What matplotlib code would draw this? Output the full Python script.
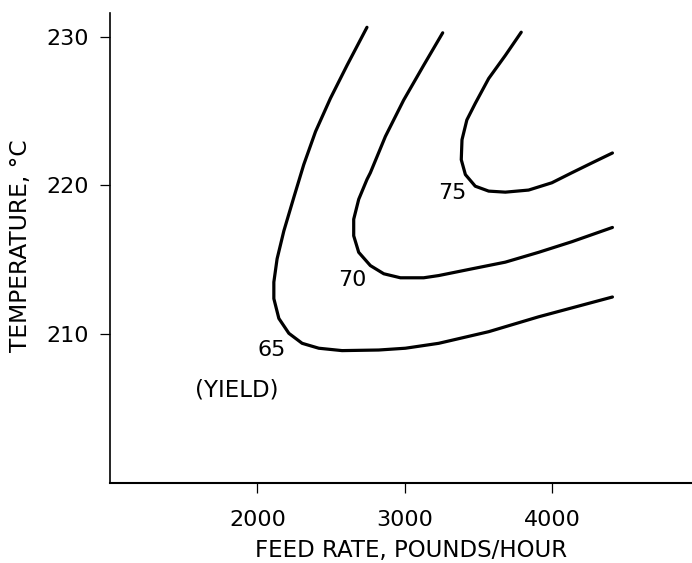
import matplotlib.pyplot as plt

# Yield contours: feed rate (pounds/hour) vs temperature (C)
yield65_feed = [2744, 2609, 2496, 2395, 2315, 2247, 2180, 2134, 2112, 2112, 2146,
                2214, 2304, 2417, 2575, 2824, 3005, 3231, 3570, 3909, 4410]
yield65_temp = [230.62, 228.07, 225.85, 223.62, 221.4, 219.18, 216.95, 215.07, 213.51,
                212.4, 211.07, 210.07, 209.4, 209.07, 208.91, 208.95, 209.07, 209.4,
                210.18, 211.18, 212.51]

yield70_feed = [3258, 3129, 2993, 2869, 2767, 2744, 2688, 2654, 2654, 2688, 2767,
                2858, 2971, 3129, 3231, 3456, 3683, 3909, 4134, 4410]
yield70_temp = [230.25, 228.07, 225.73, 223.29, 220.85, 220.4, 219.07, 217.73, 216.62,
                215.51, 214.62, 214.07, 213.8, 213.8, 213.95, 214.4, 214.85, 215.51,
                216.22, 217.18]

yield75_feed = [3791, 3683, 3570, 3479, 3422, 3389, 3384, 3412, 3479, 3570, 3683,
                3841, 3999, 4134, 4270, 4410]
yield75_temp = [230.29, 228.73, 227.18, 225.51, 224.4, 223.07, 221.73, 220.73, 219.95,
                219.62, 219.55, 219.69, 220.18, 220.85, 221.51, 222.18]

# contour labels
labels = ['65', '70', '75']
label_feed = [2100, 2643, 3321]
label_temp = [208.95, 213.62, 219.47]

x_ticks = [2000, 3000, 4000]
y_ticks = [210, 220, 230]

fs = 16

fig = plt.figure(figsize=(6.92, 5.63), dpi=100)
ax = fig.add_axes([110 / 692, 1 - 483.3 / 563, 582 / 692, 470.6 / 563])

for xs, ys in [(yield65_feed, yield65_temp), (yield70_feed, yield70_temp),
               (yield75_feed, yield75_temp)]:
    ax.plot(xs, ys, color='black', lw=2.3, solid_capstyle='round', solid_joinstyle='round')

for txt, xv, yv in zip(labels, label_feed, label_temp):
    ax.text(xv, yv, txt, fontsize=fs, ha='center', va='center')
ax.text(1863, 206.25, '(YIELD)', fontsize=16.5, ha='center', va='center')

ax.set_xlim(1000, 4950)
ax.set_ylim(200, 231.6)
ax.set_xticks(x_ticks)
ax.set_yticks(y_ticks)

ax.spines['top'].set_visible(False)
ax.spines['right'].set_visible(False)
ax.spines['left'].set_linewidth(1.2)
ax.spines['bottom'].set_linewidth(1.5)
ax.tick_params(axis='both', direction='out', length=7, width=0.9, labelsize=fs)
ax.tick_params(axis='x', pad=12)
ax.tick_params(axis='y', pad=8.5)

ax.set_xlabel('FEED RATE, POUNDS/HOUR', fontsize=16.5)
ax.set_ylabel('TEMPERATURE, °C', fontsize=16.8)
ax.xaxis.set_label_coords(0.517, -0.118)
ax.yaxis.set_label_coords(-0.134, 0.504)

plt.savefig('out.png', dpi=100)
